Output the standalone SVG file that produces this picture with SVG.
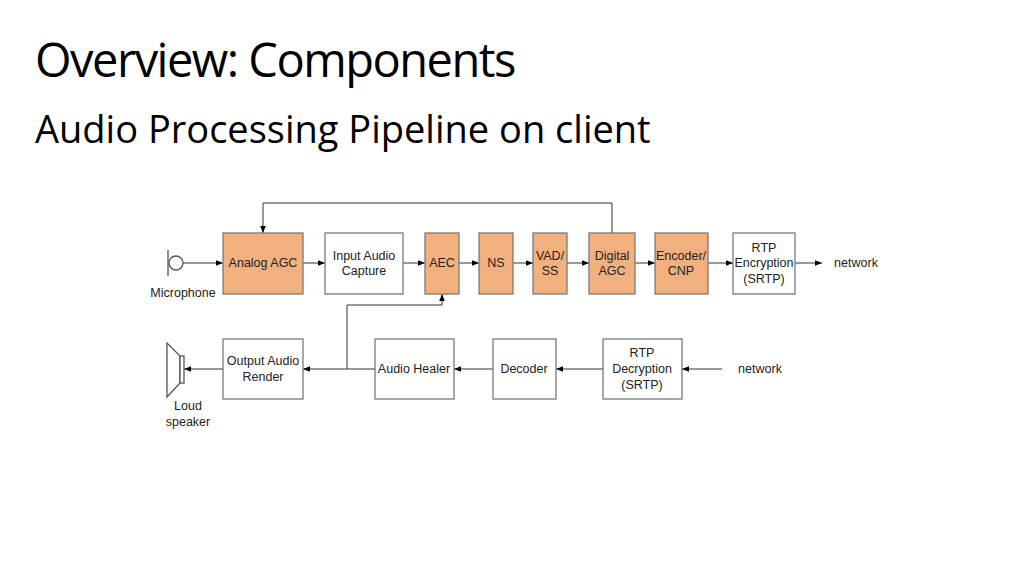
<svg xmlns="http://www.w3.org/2000/svg" width="1024" height="575" viewBox="0 0 1024 575">
<defs>
<marker id="a" viewBox="0 0 10 10" refX="10" refY="5" markerWidth="7" markerHeight="7" orient="auto"><path d="M0,1 L10,5 L0,9 z" fill="#000"/></marker>
<style>
.b{fill:#fff;stroke:#7a7a7a;stroke-width:1.3}
.o{fill:#f2b07e;stroke:#7a7a7a;stroke-width:1.3}
.t{font-family:"Liberation Sans",Arial,sans-serif;font-size:12.5px;fill:#222;text-anchor:middle}
.c{fill:none;stroke:#333;stroke-width:1}
</style>
</defs>
<rect width="1024" height="575" fill="#fff"/>
<text x="35" y="77" font-family="'Open Sans',sans-serif" font-size="47" letter-spacing="-1.5" fill="#000">Overview: Components</text>
<text x="35" y="143" font-family="'Open Sans',sans-serif" font-size="38" fill="#000">Audio Processing Pipeline on client</text>
<g id="connectors">
<path class="c" d="M183,263 H223" marker-end="url(#a)"/>
<path class="c" d="M303,263 H325" marker-end="url(#a)"/>
<path class="c" d="M403,263 H425" marker-end="url(#a)"/>
<path class="c" d="M459,263 H479" marker-end="url(#a)"/>
<path class="c" d="M513,263 H533" marker-end="url(#a)"/>
<path class="c" d="M567,263 H589" marker-end="url(#a)"/>
<path class="c" d="M635,263 H655" marker-end="url(#a)"/>
<path class="c" d="M708,263 H733" marker-end="url(#a)"/>
<path class="c" d="M795,263 H822" marker-end="url(#a)"/>
<path class="c" d="M612,233 V203 H263 V233" marker-end="url(#a)"/>
<path class="c" d="M722,369 H682" marker-end="url(#a)"/>
<path class="c" d="M603,369 H556" marker-end="url(#a)"/>
<path class="c" d="M493,369 H454" marker-end="url(#a)"/>
<path class="c" d="M375,369 H303" marker-end="url(#a)"/>
<path class="c" d="M347,369 V305 H442 V294" marker-end="url(#a)"/>
<path class="c" d="M223,369 H184" marker-end="url(#a)"/>
</g>
<g id="microphone">
<line x1="168" y1="250" x2="168" y2="276" stroke="#555" stroke-width="1.3"/>
<circle cx="176" cy="263" r="7" fill="#fff" stroke="#555" stroke-width="1.3"/>
<text class="t" x="183" y="297">Microphone</text>
</g>
<g id="speaker">
<path d="M167,343 L180,356 V383 L167,397 Z" fill="#fff" stroke="#555" stroke-width="1.3"/>
<rect x="180" y="356" width="4" height="27" fill="#fff" stroke="#555" stroke-width="1.3"/>
<text class="t" x="188" y="410">Loud</text>
<text class="t" x="188" y="426">speaker</text>
</g>
<g id="analog-agc"><rect class="o" x="223" y="233" width="80" height="61"/><text class="t" x="263" y="267">Analog AGC</text></g>
<g id="input-capture"><rect class="b" x="325" y="233" width="78" height="61"/><text class="t" x="364" y="260">Input Audio</text><text class="t" x="364" y="275">Capture</text></g>
<g id="aec"><rect class="o" x="425" y="233" width="34" height="61"/><text class="t" x="442" y="267">AEC</text></g>
<g id="ns"><rect class="o" x="479" y="233" width="34" height="61"/><text class="t" x="496" y="267">NS</text></g>
<g id="vad"><rect class="o" x="533" y="233" width="34" height="61"/><text class="t" x="550" y="260">VAD/</text><text class="t" x="550" y="275">SS</text></g>
<g id="digital-agc"><rect class="o" x="589" y="233" width="46" height="61"/><text class="t" x="612" y="260">Digital</text><text class="t" x="612" y="275">AGC</text></g>
<g id="encoder"><rect class="o" x="655" y="233" width="53" height="61"/><text class="t" x="681" y="260">Encoder/</text><text class="t" x="681" y="275">CNP</text></g>
<g id="rtp-enc"><rect class="b" x="733" y="233" width="62" height="61"/><text class="t" x="764" y="252">RTP</text><text class="t" x="764" y="267">Encryption</text><text class="t" x="764" y="283">(SRTP)</text></g>
<g id="net-out"><text class="t" x="856" y="267">network</text></g>
<g id="output-render"><rect class="b" x="223" y="339" width="80" height="60"/><text class="t" x="263" y="365">Output Audio</text><text class="t" x="263" y="381">Render</text></g>
<g id="audio-healer"><rect class="b" x="375" y="339" width="79" height="60"/><text class="t" x="414" y="373">Audio Healer</text></g>
<g id="decoder"><rect class="b" x="493" y="339" width="63" height="60"/><text class="t" x="524" y="373">Decoder</text></g>
<g id="rtp-dec"><rect class="b" x="603" y="339" width="79" height="60"/><text class="t" x="642" y="357">RTP</text><text class="t" x="642" y="373">Decryption</text><text class="t" x="642" y="389">(SRTP)</text></g>
<g id="net-in"><text class="t" x="760" y="373">network</text></g>
</svg>
